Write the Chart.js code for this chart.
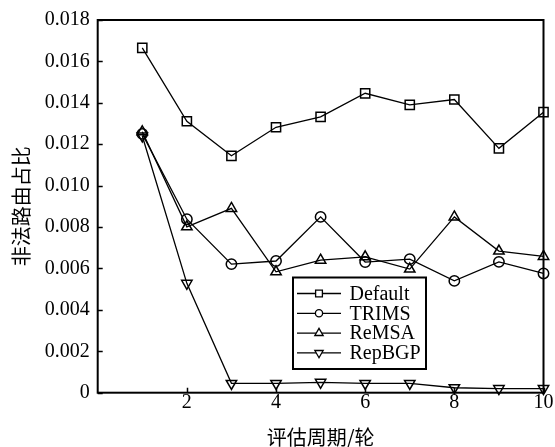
<!DOCTYPE html>
<html>
<head>
<meta charset="utf-8">
<script src="https://cdn.jsdelivr.net/npm/chart.js@4/dist/chart.umd.min.js"></script>
<style>
  html, body { margin: 0; padding: 0; background: #fff; }
  canvas { display: block; }
</style>
</head>
<body>
<canvas id="c" width="555" height="447"></canvas>
<script>
// Evaluation rounds and the share of illegal routes per scheme
const rounds = [1, 2, 3, 4, 5, 6, 7, 8, 9, 10];
const defaultVals = [0.01665, 0.01311, 0.01144, 0.01282, 0.01332, 0.01446, 0.01390, 0.01416, 0.01180, 0.01355];
const trimsVals   = [0.01250, 0.00838, 0.00621, 0.00636, 0.00849, 0.00631, 0.00645, 0.00540, 0.00632, 0.00576];
const remsaVals   = [0.01260, 0.00801, 0.00890, 0.00584, 0.00640, 0.00656, 0.00597, 0.00849, 0.00684, 0.00658];
const repbgpVals  = [0.01240, 0.00528, 0.00045, 0.00045, 0.00050, 0.00045, 0.00045, 0.00024, 0.00020, 0.00020];

const seriesNames = ['Default', 'TRIMS', 'ReMSA', 'RepBGP'];
const xTickValues = [2, 4, 6, 8, 10];
const yTickLabels = ['0', '0.002', '0.004', '0.006', '0.008', '0.010', '0.012', '0.014', '0.016', '0.018'];
const xTitle = '评估周期/轮';
const yTitle = '非法路由占比';

const SERIF = '"Liberation Serif", "Times New Roman", "Noto Sans CJK SC", serif';
const CJK = '"Noto Sans CJK SC", "Liberation Serif", sans-serif';

const markers = [
  { pointStyle: 'rect', radius: 6.5, rotation: 0, legendRadius: 4.8 },
  { pointStyle: 'circle', radius: 5.2, rotation: 0, legendRadius: 3.6 },
  { pointStyle: 'triangle', radius: 6, rotation: 0, legendRadius: 4.8 },
  { pointStyle: 'triangle', radius: 6, rotation: 180, legendRadius: 4.8 }
];

const allVals = [defaultVals, trimsVals, remsaVals, repbgpVals];

const datasets = allVals.map((vals, i) => ({
  label: seriesNames[i],
  data: rounds.map((r, k) => ({ x: r, y: vals[k] })),
  borderColor: '#000',
  borderWidth: 1.3,
  pointStyle: markers[i].pointStyle,
  pointRadius: markers[i].radius,
  pointRotation: markers[i].rotation,
  pointBorderColor: '#000',
  pointBackgroundColor: 'rgba(0,0,0,0)',
  pointBorderWidth: 1.5,
  tension: 0,
  clip: false
}));

function drawMarker(ctx, m, x, y, r) {
  if (Chart.helpers && Chart.helpers.drawPoint) {
    Chart.helpers.drawPoint(ctx, { pointStyle: m.pointStyle, rotation: m.rotation, radius: r, borderWidth: 1.3 }, x, y);
  }
}

const framePlugin = {
  id: 'frame',
  afterDatasetsDraw(chart) {
    const { ctx, chartArea: a, scales } = chart;
    const xs = scales.x, ys = scales.y;
    ctx.save();
    // inward tick marks
    ctx.strokeStyle = '#000';
    ctx.lineWidth = 1.5;
    ctx.beginPath();
    xTickValues.forEach(v => {
      const px = Math.round(xs.getPixelForValue(v)) + 0.5;
      ctx.moveTo(px, a.bottom);
      ctx.lineTo(px, a.bottom - 5);
    });
    yTickLabels.forEach(t => {
      const py = Math.round(ys.getPixelForValue(parseFloat(t))) + 0.5;
      ctx.moveTo(a.left, py);
      ctx.lineTo(a.left + 5, py);
    });
    ctx.stroke();
    // plot frame
    ctx.lineWidth = 2;
    ctx.strokeRect(a.left, a.top, a.right - a.left, a.bottom - a.top);

    // legend
    const bx = 293, by = 277.5, bw = 133, bh = 91.5;
    ctx.fillStyle = '#fff';
    ctx.fillRect(bx, by, bw, bh);
    ctx.lineWidth = 2;
    ctx.strokeRect(bx, by, bw, bh);
    ctx.font = '20px ' + SERIF;
    ctx.textBaseline = 'middle';
    ctx.textAlign = 'left';
    seriesNames.forEach((name, i) => {
      const ey = 293.5 + i * 19.8;
      ctx.strokeStyle = '#000';
      ctx.lineWidth = 1.3;
      ctx.beginPath();
      ctx.moveTo(297, ey);
      ctx.lineTo(341, ey);
      ctx.stroke();
      ctx.fillStyle = '#fff';
      drawMarker(ctx, markers[i], 319, ey, markers[i].legendRadius);
      ctx.fillStyle = '#000';
      ctx.fillText(name, 349.5, ey + 1);
    });
    ctx.restore();
  }
};

new Chart(document.getElementById('c'), {
  type: 'line',
  data: { datasets },
  options: {
    responsive: false,
    animation: false,
    devicePixelRatio: 1,
    layout: { padding: { left: 0, top: 19.5, right: 11.5, bottom: 0 } },
    plugins: { legend: { display: false }, tooltip: { enabled: false } },
    scales: {
      x: {
        type: 'linear',
        min: 0,
        max: 10,
        afterBuildTicks(scale) { scale.ticks = xTickValues.map(v => ({ value: v })); },
        afterFit(scale) { scale.height = 54.3; },
        grid: { display: false, drawTicks: false },
        border: { display: false },
        ticks: { color: '#000', font: { family: SERIF, size: 20 }, padding: -2, maxRotation: 0 },
        title: { display: true, text: xTitle, color: '#000', font: { family: CJK, size: 20, lineHeight: 1 }, padding: 0 }
      },
      y: {
        type: 'linear',
        min: 0,
        max: 0.018,
        afterBuildTicks(scale) { scale.ticks = yTickLabels.map(t => ({ value: parseFloat(t) })); },
        afterFit(scale) { scale.width = 97.7; },
        grid: { display: false, drawTicks: false },
        border: { display: false },
        ticks: {
          color: '#000',
          font: { family: SERIF, size: 20 },
          padding: 8,
          callback: (v) => yTickLabels.find(t => Math.abs(parseFloat(t) - v) < 1e-9) || ''
        },
        title: { display: true, text: yTitle, color: '#000', font: { family: CJK, size: 20, lineHeight: 1 }, padding: { top: 11, bottom: 0 } }
      }
    }
  },
  plugins: [framePlugin]
});
</script>
</body>
</html>
